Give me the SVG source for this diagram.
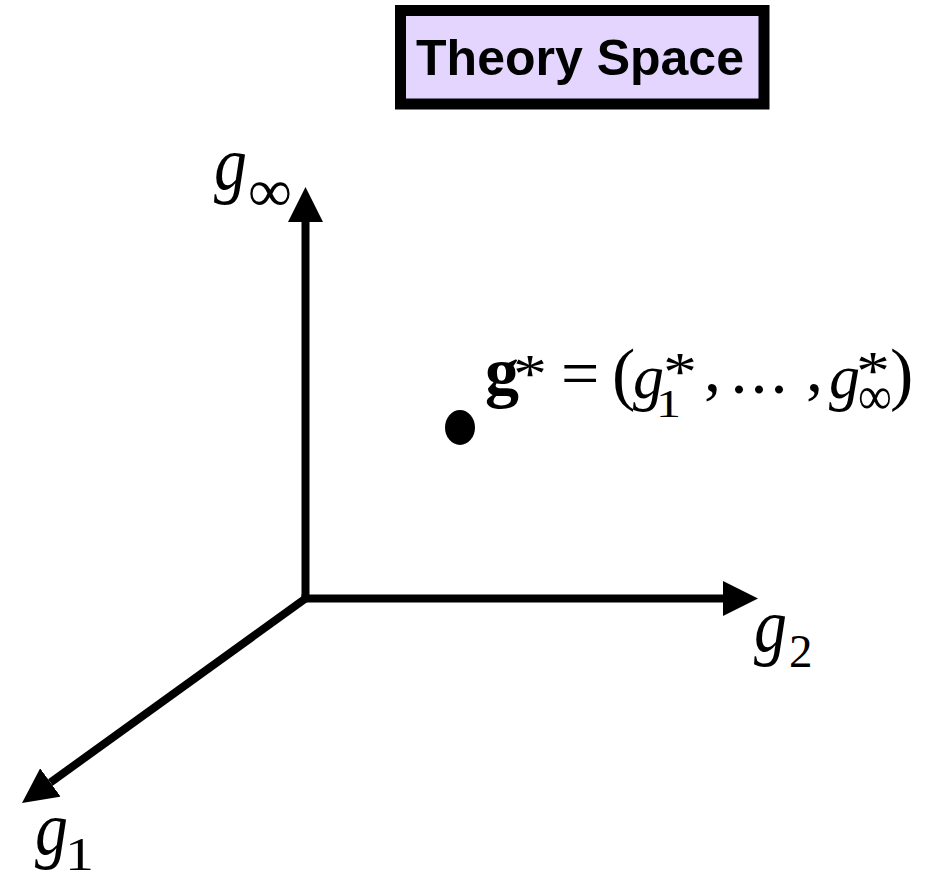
<svg xmlns="http://www.w3.org/2000/svg" width="927" height="879" viewBox="0 0 927 879">
<style>
.ax{stroke:#000;stroke-width:8;fill:none}
.m{font-family:"Liberation Serif","Times New Roman",serif;font-style:italic;fill:#000}
.r{font-family:"Liberation Serif","Times New Roman",serif;fill:#000}
.title{font-family:"Liberation Sans",Arial,sans-serif;font-weight:bold;font-size:50px;fill:#000}
</style>
<defs>
<marker id="ah" viewBox="0 0 35 35" markerWidth="35" markerHeight="35" refX="0" refY="17.5" markerUnits="userSpaceOnUse" orient="auto">
<path d="M0,0 L35,17.5 L0,35 z" fill="#000"/>
</marker>
</defs>
<rect width="927" height="879" fill="#fff"/>
<g id="title">
<rect x="400.5" y="10.5" width="363.5" height="93.5" fill="#e3d5fd" stroke="#000" stroke-width="11"/>
<text class="title" x="580" y="75" text-anchor="middle">Theory Space</text>
</g>
<g id="connectors">
<line class="ax" x1="305.5" y1="602" x2="305.5" y2="222" marker-end="url(#ah)"/>
<line class="ax" x1="301.5" y1="598.5" x2="723" y2="598.5" marker-end="url(#ah)"/>
<line class="ax" x1="305.5" y1="598.5" x2="50.4" y2="782.5" marker-end="url(#ah)"/>
</g>
<g id="label-ginf">
<text class="m" x="214" y="188.5" font-size="76" textLength="33" lengthAdjust="spacingAndGlyphs">g</text>
<text class="r" x="248" y="211" font-size="60" textLength="44" lengthAdjust="spacingAndGlyphs">∞</text>
</g>
<g id="label-g2">
<text class="m" x="754" y="650.5" font-size="76" textLength="33" lengthAdjust="spacingAndGlyphs">g</text>
<text class="r" x="789" y="667" font-size="47">2</text>
</g>
<g id="label-g1">
<text class="m" x="35" y="853.5" font-size="76" textLength="33" lengthAdjust="spacingAndGlyphs">g</text>
<text class="r" x="65" y="870" font-size="46" textLength="29" lengthAdjust="spacingAndGlyphs">1</text>
</g>
<g id="point">
<ellipse cx="460" cy="427.5" rx="15" ry="17.5" fill="#000"/>
<text class="r" x="485" y="395" font-size="68" font-weight="bold">g</text>
<text class="r" x="513" y="392" font-size="55" textLength="34" lengthAdjust="spacingAndGlyphs">*</text>
<text class="r" x="561" y="395.5" font-size="68">=</text>
<text class="r" x="612" y="397" font-size="70">(</text>
<text class="m" x="633" y="398" font-size="64" textLength="31" lengthAdjust="spacingAndGlyphs">g</text>
<text class="r" x="663" y="390" font-size="55" textLength="34" lengthAdjust="spacingAndGlyphs">*</text>
<text class="r" x="656" y="417" font-size="40" textLength="25" lengthAdjust="spacingAndGlyphs">1</text>
<text class="r" x="704" y="390.5" font-size="68">,</text>
<text class="r" x="730.5 750.5 770.5" y="393" font-size="68">...</text>
<text class="r" x="806" y="390.5" font-size="68">,</text>
<text class="m" x="829" y="398" font-size="64" textLength="31" lengthAdjust="spacingAndGlyphs">g</text>
<text class="r" x="856" y="389" font-size="55" textLength="34" lengthAdjust="spacingAndGlyphs">*</text>
<text class="r" x="858" y="413.5" font-size="54" textLength="34" lengthAdjust="spacingAndGlyphs">∞</text>
<text class="r" x="890" y="397" font-size="70">)</text>
</g>
</svg>
